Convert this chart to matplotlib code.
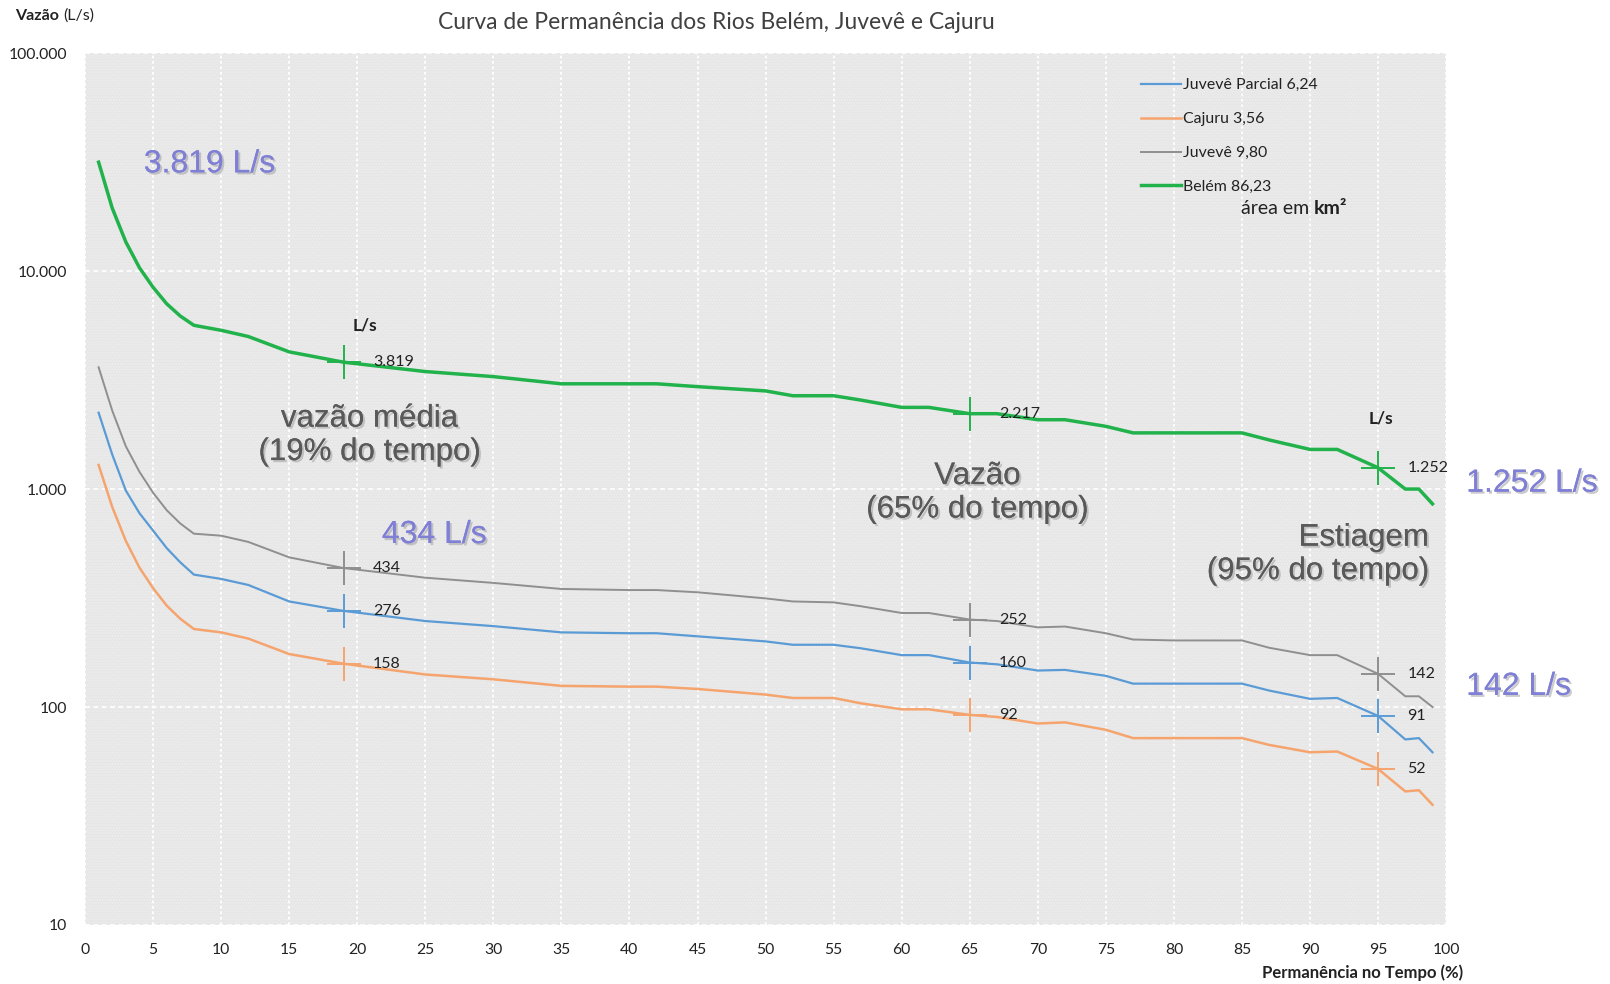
import matplotlib
matplotlib.use("Agg")
import matplotlib.pyplot as plt
from matplotlib.patches import Rectangle
import matplotlib.patheffects as pe

# permanência no tempo (%)
perm = [1, 2, 3, 4, 5, 6, 7, 8, 10, 12, 15, 19, 25, 30, 35, 40, 42, 45, 50, 52,
        55, 57, 60, 62, 65, 67, 70, 72, 75, 77, 80, 85, 87, 90, 92, 95, 97, 98, 99]

# vazões (L/s)
juveve_parcial = [2240, 1440, 984, 775, 645, 536, 461, 405, 387, 363, 305, 276, 248, 235, 220, 218, 218, 211, 200, 193,
                  193, 186, 173, 173, 160, 157, 147, 148, 139, 128, 128, 128, 119, 109, 110, 91, 71, 72, 62]
cajuru = [1290, 827, 578, 436, 351, 292, 254, 228, 220, 206, 175, 158, 141, 134, 125, 124, 124, 121, 114, 110,
          110, 104, 97.6, 97.6, 92, 90, 84, 85, 78.6, 72, 72, 72, 67, 62, 62.5, 52, 41, 41.5, 35.6]
juveve = [3620, 2290, 1570, 1200, 962, 800, 695, 624, 611, 572, 486, 434, 392, 371, 348, 344, 344, 336, 315, 305,
          302, 290, 270, 270, 252, 248, 232, 234, 218, 204, 202, 202, 187, 173, 173, 142, 112, 112, 100]
belem = [31600, 19450, 13600, 10360, 8430, 7080, 6220, 5640, 5350, 5010, 4260, 3819, 3460, 3280, 3040, 3040, 3040, 2950, 2820, 2680,
         2680, 2560, 2370, 2370, 2217, 2217, 2080, 2080, 1940, 1810, 1810, 1810, 1680, 1520, 1520, 1252, 1000, 1000, 855]

labels = ["Juvevê Parcial 6,24", "Cajuru 3,56", "Juvevê 9,80", "Belém 86,23"]
colors = ["#5b9bd5", "#f5a46e", "#8f8f8f", "#22b24c"]
widths = [1.6, 1.8, 1.4, 2.5]

# pontos de referência (19%, 65% e 95% do tempo)
ref_perm = [19, 65, 95]
ref_vals = {
  "Juvevê Parcial 6,24": [276, 160, 91],
  "Cajuru 3,56": [158, 92, 52],
  "Juvevê 9,80": [434, 252, 142],
  "Belém 86,23": [3819, 2217, 1252],
}
ref_text = {
  "Juvevê Parcial 6,24": ["276", "160", "91"],
  "Cajuru 3,56": ["158", "92", "52"],
  "Juvevê 9,80": ["434", "252", "142"],
  "Belém 86,23": ["3.819", "2.217", "1.252"],
}

yticks = [10, 100, 1000, 10000, 100000]
ytick_labels = ["10", "100", "1.000", "10.000", "100.000"]
xticks = list(range(0, 101, 5))

plt.rcParams['font.family'] = ['Lato', 'DejaVu Sans']
dark = "#222222"

fig = plt.figure(figsize=(16.1, 9.84), dpi=100)
ax = fig.add_axes([0.0528, 0.060, 0.8454, 0.886])
ax.set_facecolor("#e6e6e6")
ax.add_patch(Rectangle((0, 0), 1, 1, transform=ax.transAxes, facecolor="none",
                       hatch="......", edgecolor="#eeeeee", lw=0, zorder=0))

series = [juveve_parcial, cajuru, juveve, belem]
for name, vals, c, lw in zip(labels, series, colors, widths):
  ax.plot(perm, vals, color=c, lw=lw, label=name, zorder=3)
  ax.plot(ref_perm, ref_vals[name], ls="none", marker="+", ms=24, mew=1.4, color=c, zorder=4)
  for xp, yv, t in zip(ref_perm, ref_vals[name], ref_text[name]):
    ax.annotate(t, (xp, yv), xytext=(21, 0), textcoords="offset points",
                va="center", ha="left", fontsize=11.5, color=dark, zorder=5)

ax.set_yscale("log")
ax.set_xlim(0, 100)
ax.set_ylim(10, 100000)
ax.set_yticks(yticks)
ax.set_yticklabels(ytick_labels)
ax.yaxis.set_minor_locator(matplotlib.ticker.NullLocator())
ax.set_xticks(xticks)
ax.tick_params(axis="both", length=0, labelsize=11.3, colors=dark)
ax.tick_params(axis="y", pad=13)
ax.tick_params(axis="x", pad=13)
for s in ax.spines.values():
  s.set_visible(False)
ax.grid(axis="x", color="white", ls=(0, (1.5, 1.5)), lw=1.3, zorder=1)
ax.grid(axis="y", color="white", ls=(0, (3, 2)), lw=1.2, zorder=1)

leg = ax.legend(loc="upper left", bbox_to_anchor=(0.709, 0.9205), bbox_transform=fig.transFigure,
                frameon=False, fontsize=11.4, handlelength=2.5, handletextpad=0.1,
                labelspacing=1.25, borderpad=0, borderaxespad=0)
for t in leg.get_texts():
  t.set_color(dark)
t1 = ax.text(84.9, 19450, "área em ", ha="left", va="center", fontsize=14, color=dark)
ax.annotate("km²", xy=(1, 0.5), xycoords=t1, va="center", ha="left",
            fontsize=14, fontweight="bold", color=dark)

ax.text(20.6, 5640, "L/s", ha="center", va="center", fontsize=12.5, fontweight="bold", color=dark)
ax.text(95.2, 2100, "L/s", ha="center", va="center", fontsize=12.5, fontweight="bold", color=dark)

fig.text(0.445, 0.977, "Curva de Permanência dos Rios Belém, Juvevê e Cajuru",
         ha="center", va="center", fontsize=16.5, color="#404040")
t2 = fig.text(0.0096, 0.984, "Vazão ", ha="left", va="center", fontsize=11.5, fontweight="bold", color=dark)
ax.annotate("(L/s)", xy=(1, 0.5), xycoords=t2, va="center", ha="left", fontsize=11.5, color=dark,
            annotation_clip=False)
fig.text(0.9088, 0.011, "Permanência no Tempo (%)", ha="right", va="center",
         fontsize=12, fontweight="bold", color=dark)

shadow = [pe.withSimplePatchShadow(offset=(1.5, -1.5), shadow_rgbFace="#999999", alpha=0.5), pe.Normal()]
purple = "#7f7fd6"
for txt, x, y in [("3.819 L/s", 0.0893, 0.833), ("434 L/s", 0.2372, 0.4563),
                  ("1.252 L/s", 0.9107, 0.5085), ("142 L/s", 0.9107, 0.302)]:
  fig.text(x, y, txt, ha="left", va="center", fontsize=23, color=purple,
           family="Liberation Sans", path_effects=shadow)

gray = "#595959"
fig.text(0.2296, 0.5576, "vazão média\n(19% do tempo)", ha="center", va="center", fontsize=22.5,
         color=gray, family="Liberation Sans", path_effects=shadow, linespacing=1.15)
fig.text(0.6071, 0.4992, "Vazão\n(65% do tempo)", ha="center", va="center", fontsize=22.5,
         color=gray, family="Liberation Sans", path_effects=shadow, linespacing=1.15)
fig.text(0.8877, 0.4366, "Estiagem\n(95% do tempo)", ha="right", va="center", fontsize=22.5,
         color=gray, family="Liberation Sans", path_effects=shadow, linespacing=1.15, multialignment="right")

fig.savefig("out.png", dpi=100)
